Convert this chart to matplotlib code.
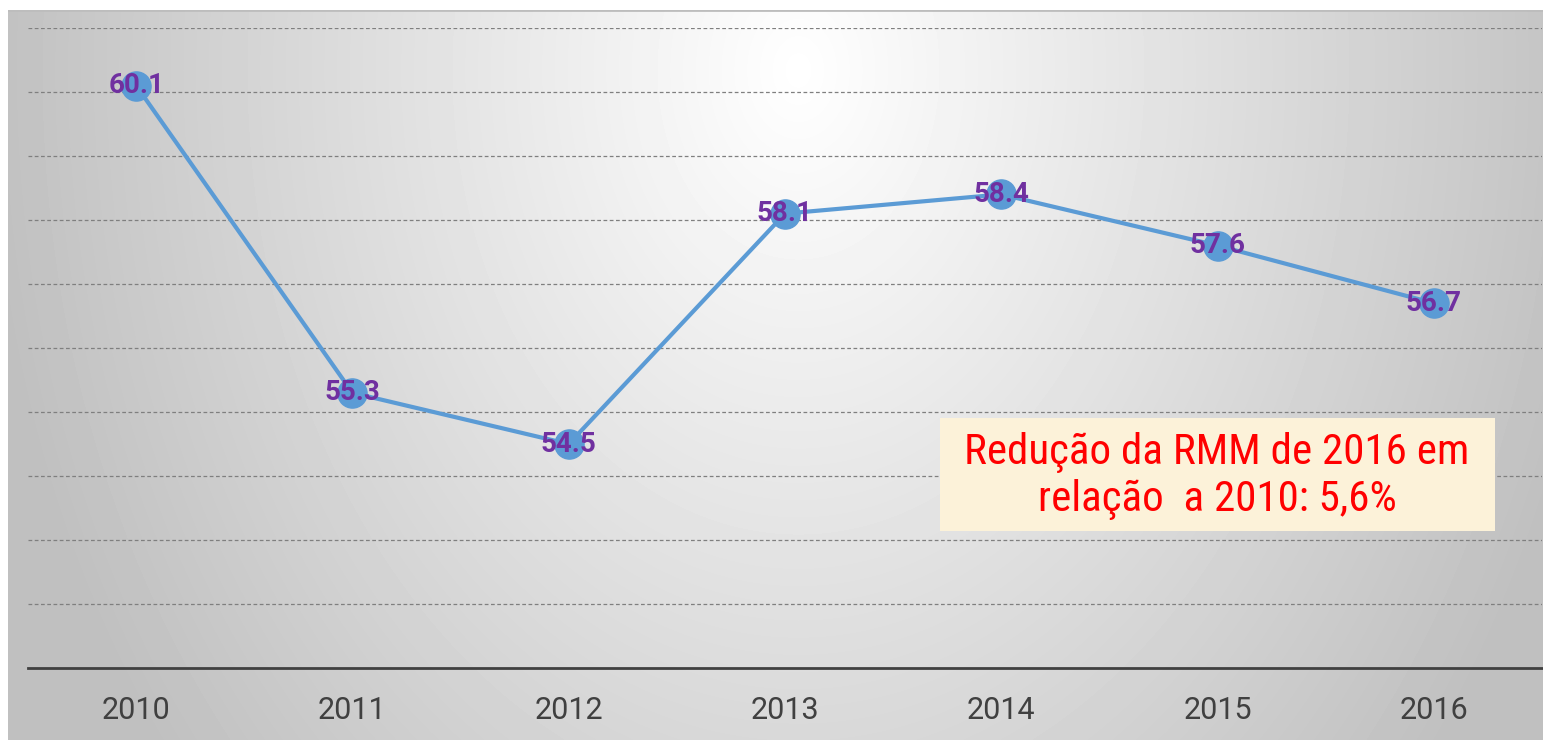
import numpy as np
import matplotlib
matplotlib.use("Agg")
import matplotlib.pyplot as plt
from matplotlib import font_manager
from matplotlib.patches import Rectangle

# data
years = ["2010", "2011", "2012", "2013", "2014", "2015", "2016"]
rmm = [60.1, 55.3, 54.5, 58.1, 58.4, 57.6, 56.7]
note = "Redução da RMM de 2016 em\nrelação  a 2010: 5,6%"

W, H = 1543, 740
fig = plt.figure(figsize=(W / 100, H / 100), dpi=100)
fig.patch.set_facecolor("white")

# gray radial gradient panel behind the chart
bg = fig.add_axes([8 / W, 0, (W - 8) / W, (H - 10) / H], zorder=0)
yy, xx = np.mgrid[0:730, 0:W - 8]
r = np.sqrt(((xx - 790) / 820.0) ** 2 + ((yy - 60) / 1100.0) ** 2)
shade = 1.0 - 0.25 * np.clip(r, 0, 1)
bg.imshow(shade, cmap="gray", vmin=0, vmax=1, aspect="auto",
          extent=[0, 1, 0, 1], origin="upper", interpolation="bilinear")
bg.axhline(1.0, color="#bdbdbd", lw=2)
bg.set_xlim(0, 1)
bg.set_ylim(0, 1)
bg.axis("off")

narrow = "Liberation Sans Narrow"
names = {f.name for f in font_manager.fontManager.ttflist}
if narrow not in names:
    narrow = "Roboto Condensed" if "Roboto Condensed" in names else "DejaVu Sans"

ax = fig.add_axes([28 / W, (H - 668) / H, (1542 - 28) / W, 640 / H], zorder=1)
ax.patch.set_alpha(0)
x = np.arange(len(years))
ax.plot(x, rmm, color="#5B9BD5", lw=3, marker="o", ms=21,
        mfc="#5B9BD5", mec="#5B9BD5", zorder=3)
for xi, v in zip(x, rmm):
    ax.text(xi, v, f"{v:.1f}", ha="center", va="center", color="#7030A0",
            fontsize=20, fontweight="bold", family=["Roboto", "DejaVu Sans"],
            zorder=4)

ax.set_xlim(-0.5, len(years) - 0.5)
ax.set_ylim(51, 61)
ax.set_yticks(np.arange(52, 62, 1))
ax.yaxis.grid(True, color="#7f7f7f", ls=(0, (3, 2)), lw=0.9)
ax.set_axisbelow(True)
ax.tick_params(axis="y", left=False, labelleft=False)
ax.set_xticks(x)
ax.set_xticklabels(years, fontsize=22, color="#404040",
                   family=["Roboto", "DejaVu Sans"])
ax.tick_params(axis="x", length=0, pad=20)
for s in ["top", "right", "left"]:
    ax.spines[s].set_visible(False)
ax.spines["bottom"].set_color("#404040")
ax.spines["bottom"].set_linewidth(2)

# note box
fig.add_artist(Rectangle((940 / W, 1 - 531 / H), 555 / W, 113 / H,
                         transform=fig.transFigure, fc="#FCF2D9", ec="none",
                         zorder=5))
fig.text(1217 / W, 1 - 476 / H, note, ha="center", va="center",
         color="#FF0000", fontsize=31, family=[narrow, "DejaVu Sans"],
         linespacing=1.2, zorder=6)

fig.savefig("out.png", dpi=100)
